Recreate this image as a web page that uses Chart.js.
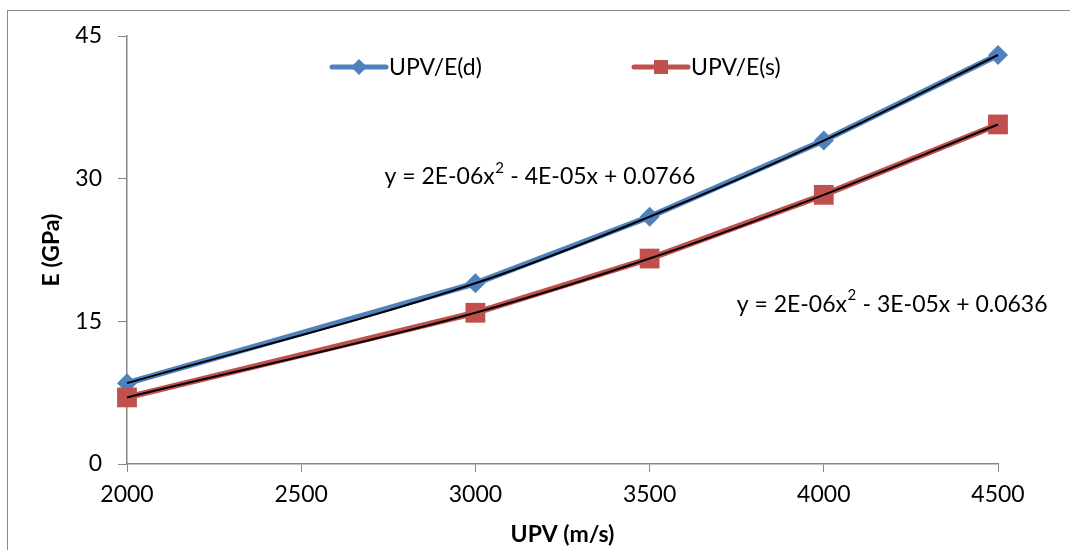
<!DOCTYPE html>
<html>
<head>
<meta charset="utf-8">
<script src="https://cdn.jsdelivr.net/npm/chart.js@4.4.1/dist/chart.umd.min.js"></script>
<style>
  html, body { margin: 0; padding: 0; background: #fff; overflow: hidden; }
  #frame { position: absolute; left: 7px; top: 10px; width: 1200px; height: 700px; border: 1px solid #8a8a8a; }
  #wrap { position: absolute; left: 0; top: 0; width: 1070px; height: 550px; }
</style>
</head>
<body>
<div id="frame"></div>
<div id="wrap"><canvas id="chart"></canvas></div>
<script>
/* ====== Data ====== */
const upv = [2000, 3000, 3500, 4000, 4500];
const eDynamic = [8.5, 19.0, 26.0, 34.0, 43.0];
const eStatic = [7.0, 15.9, 21.6, 28.3, 35.7];
const seriesLabels = ["UPV/E(d)", "UPV/E(s)"];
const xTicks = [2000, 2500, 3000, 3500, 4000, 4500];
const yTicks = [0, 15, 30, 45];
const eqDynamic = ["y = 2E-06x", "2", " - 4E-05x + 0.0766"];
const eqStatic = ["y = 2E-06x", "2", " - 3E-05x + 0.0636"];

const BLUE = "#4F81BD";
const RED = "#C0504D";
const AXIS = "#868686";
const FONT = "Lato, 'Open Sans', sans-serif";

const pts = (ys) => upv.map((x, i) => ({ x, y: ys[i] }));

/* ====== Overlay: legend + trendline equations ====== */
const overlay = {
  id: "overlay",
  afterDraw(chart) {
    const { ctx, scales } = chart;
    const a = chart.chartArea;
    ctx.save();

    // legend (line with marker)
    const items = [
      { x: a.left + 205, color: BLUE, shape: "diamond", label: seriesLabels[0] },
      { x: a.left + 507, color: RED, shape: "square", label: seriesLabels[1] }
    ];
    const ly = a.top + 31;
    items.forEach(it => {
      ctx.strokeStyle = it.color;
      ctx.lineWidth = 5;
      ctx.lineCap = "round";
      ctx.beginPath();
      ctx.moveTo(it.x, ly);
      ctx.lineTo(it.x + 54, ly);
      ctx.stroke();
      ctx.fillStyle = it.color;
      const cx = it.x + 27;
      ctx.beginPath();
      if (it.shape === "diamond") {
        ctx.moveTo(cx, ly - 8); ctx.lineTo(cx + 8, ly); ctx.lineTo(cx, ly + 8); ctx.lineTo(cx - 8, ly);
      } else {
        ctx.rect(cx - 7, ly - 7, 14, 14);
      }
      ctx.fill();
      ctx.fillStyle = "#000";
      ctx.font = "23px " + FONT;
      ctx.textAlign = "left";
      ctx.textBaseline = "middle";
      ctx.fillText(it.label, it.x + 57, ly + 1);
    });

    // equations, anchored in data space
    const drawEq = (parts, dx, dy) => {
      const big = "23px " + FONT, small = "15px " + FONT;
      ctx.font = big; const w0 = ctx.measureText(parts[0]).width;
      ctx.font = small; const w1 = ctx.measureText(parts[1]).width + 1;
      ctx.font = big; const w2 = ctx.measureText(parts[2]).width;
      let x = scales.x.getPixelForValue(dx) - (w0 + w1 + w2) / 2;
      const y = scales.y.getPixelForValue(dy);
      ctx.fillStyle = "#000";
      ctx.textAlign = "left";
      ctx.textBaseline = "middle";
      ctx.font = big; ctx.fillText(parts[0], x, y); x += w0;
      ctx.font = small; ctx.fillText(parts[1], x + 0.5, y - 9); x += w1;
      ctx.font = big; ctx.fillText(parts[2], x, y);
    };
    drawEq(eqDynamic, 3185, 30.2);
    drawEq(eqStatic, 4196, 16.8);

    ctx.restore();
  }
};

/* ====== Chart ====== */
new Chart(document.getElementById("chart"), {
  type: "line",
  data: {
    datasets: [
      { label: "trend d", data: pts(eDynamic), borderColor: "#000", borderWidth: 2,
        pointRadius: 0, cubicInterpolationMode: "monotone", order: 0 },
      { label: "trend s", data: pts(eStatic), borderColor: "#000", borderWidth: 2,
        pointRadius: 0, cubicInterpolationMode: "monotone", order: 0 },
      { label: seriesLabels[0], data: pts(eDynamic), borderColor: BLUE, backgroundColor: BLUE,
        borderWidth: 6, pointStyle: "rectRot", pointRadius: 10, pointBorderWidth: 0, order: 2 },
      { label: seriesLabels[1], data: pts(eStatic), borderColor: RED, backgroundColor: RED,
        borderWidth: 6, pointStyle: "rect", pointRadius: 14, pointBorderWidth: 0, order: 1 }
    ]
  },
  options: {
    responsive: true,
    maintainAspectRatio: false,
    animation: false,
    clip: false,
    layout: { padding: { top: 36, right: 72, left: 0, bottom: 0 } },
    plugins: { legend: { display: false }, tooltip: { enabled: false } },
    scales: {
      x: {
        type: "linear", min: 2000, max: 4500,
        afterBuildTicks: s => { s.ticks = xTicks.map(v => ({ value: v })); },
        afterFit: s => { s.height = 86; },
        grid: { drawOnChartArea: false, tickLength: 8, color: AXIS },
        border: { color: AXIS, width: 1.5 },
        ticks: { color: "#000", padding: 9, font: { family: FONT, size: 23 }, callback: v => String(v) },
        title: { display: true, text: "UPV (m/s)", color: "#000", padding: { top: 0, bottom: 2 },
                 font: { family: FONT, size: 23, weight: "bold" } }
      },
      y: {
        min: 0, max: 45,
        afterBuildTicks: s => { s.ticks = yTicks.map(v => ({ value: v })); },
        afterFit: s => { s.width = 127; },
        grid: { drawOnChartArea: false, tickLength: 9, color: AXIS },
        border: { color: AXIS, width: 1.5 },
        ticks: { color: "#000", padding: 16, font: { family: FONT, size: 23 }, callback: v => String(v) },
        title: { display: true, text: "E (GPa)", color: "#000", padding: { top: 38, bottom: 0 },
                 font: { family: FONT, size: 23, weight: "bold" } }
      }
    }
  },
  plugins: [overlay]
});
</script>
</body>
</html>
